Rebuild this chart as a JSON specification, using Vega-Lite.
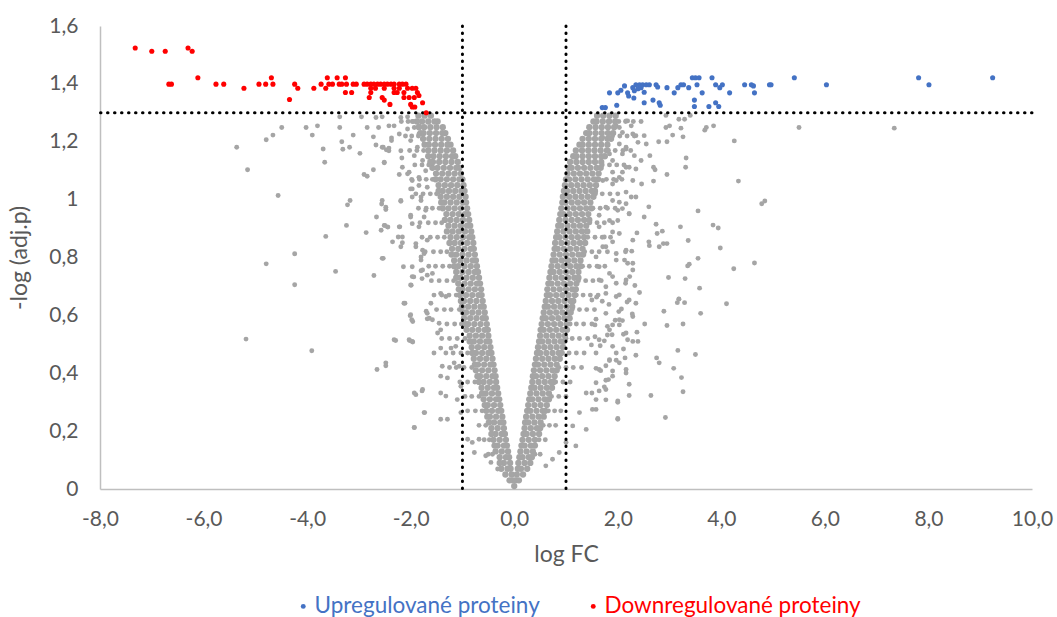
{
"$schema":"https://vega.github.io/schema/vega-lite/v6.json",
"width":932,"height":463,
"autosize":{"type":"none"},
"padding":{"left":100,"top":26,"right":25,"bottom":128},
"background":"white",
"config":{"view":{"stroke":null},"font":"Lato"},
"datasets":{
"vref":[{"x":-1},{"x":1}],
"href":[{"y":1.3}],
"sig":[
{"x":-7.32,"y":1.524,"g":"Downregulované proteiny"},{"x":-7.0,"y":1.513,"g":"Downregulované proteiny"},{"x":-6.74,"y":1.513,"g":"Downregulované proteiny"},{"x":-6.3,"y":1.524,"g":"Downregulované proteiny"},{"x":-6.22,"y":1.513,"g":"Downregulované proteiny"},{"x":-6.67,"y":1.399,"g":"Downregulované proteiny"},{"x":-6.62,"y":1.399,"g":"Downregulované proteiny"},{"x":-6.11,"y":1.421,"g":"Downregulované proteiny"},{"x":-5.76,"y":1.399,"g":"Downregulované proteiny"},{"x":-5.61,"y":1.399,"g":"Downregulované proteiny"},{"x":-5.22,"y":1.385,"g":"Downregulované proteiny"},{"x":-4.93,"y":1.399,"g":"Downregulované proteiny"},{"x":-4.8,"y":1.399,"g":"Downregulované proteiny"},{"x":-4.69,"y":1.421,"g":"Downregulované proteiny"},{"x":-4.66,"y":1.399,"g":"Downregulované proteiny"},{"x":-4.34,"y":1.346,"g":"Downregulované proteiny"},{"x":-4.24,"y":1.399,"g":"Downregulované proteiny"},{"x":-4.18,"y":1.385,"g":"Downregulované proteiny"},{"x":-3.87,"y":1.385,"g":"Downregulované proteiny"},{"x":-3.73,"y":1.399,"g":"Downregulované proteiny"},{"x":-3.64,"y":1.385,"g":"Downregulované proteiny"},{"x":-3.61,"y":1.421,"g":"Downregulované proteiny"},{"x":-3.58,"y":1.399,"g":"Downregulované proteiny"},{"x":-3.51,"y":1.399,"g":"Downregulované proteiny"},{"x":-3.42,"y":1.421,"g":"Downregulované proteiny"},{"x":-3.38,"y":1.399,"g":"Downregulované proteiny"},{"x":-3.33,"y":1.399,"g":"Downregulované proteiny"},{"x":-3.26,"y":1.421,"g":"Downregulované proteiny"},{"x":-3.24,"y":1.399,"g":"Downregulované proteiny"},{"x":-3.26,"y":1.37,"g":"Downregulované proteiny"},{"x":-3.14,"y":1.37,"g":"Downregulované proteiny"},{"x":-3.11,"y":1.399,"g":"Downregulované proteiny"},{"x":-3.05,"y":1.399,"g":"Downregulované proteiny"},
{"x":-2.9,"y":1.399,"g":"Downregulované proteiny"},{"x":-2.84,"y":1.399,"g":"Downregulované proteiny"},{"x":-2.77,"y":1.399,"g":"Downregulované proteiny"},{"x":-2.71,"y":1.399,"g":"Downregulované proteiny"},{"x":-2.64,"y":1.399,"g":"Downregulované proteiny"},{"x":-2.58,"y":1.399,"g":"Downregulované proteiny"},{"x":-2.51,"y":1.399,"g":"Downregulované proteiny"},{"x":-2.45,"y":1.399,"g":"Downregulované proteiny"},{"x":-2.38,"y":1.399,"g":"Downregulované proteiny"},{"x":-2.32,"y":1.399,"g":"Downregulované proteiny"},
{"x":-2.77,"y":1.385,"g":"Downregulované proteiny"},{"x":-2.68,"y":1.385,"g":"Downregulované proteiny"},{"x":-2.51,"y":1.385,"g":"Downregulované proteiny"},{"x":-2.32,"y":1.385,"g":"Downregulované proteiny"},{"x":-2.22,"y":1.385,"g":"Downregulované proteiny"},
{"x":-2.77,"y":1.37,"g":"Downregulované proteiny"},{"x":-2.32,"y":1.37,"g":"Downregulované proteiny"},{"x":-2.26,"y":1.37,"g":"Downregulované proteiny"},{"x":-2.13,"y":1.37,"g":"Downregulované proteiny"},
{"x":-2.8,"y":1.353,"g":"Downregulované proteiny"},{"x":-2.55,"y":1.353,"g":"Downregulované proteiny"},{"x":-2.13,"y":1.353,"g":"Downregulované proteiny"},{"x":-2.03,"y":1.353,"g":"Downregulované proteiny"},{"x":-1.93,"y":1.353,"g":"Downregulované proteiny"},
{"x":-2.51,"y":1.344,"g":"Downregulované proteiny"},{"x":-2.4,"y":1.329,"g":"Downregulované proteiny"},{"x":-2.0,"y":1.329,"g":"Downregulované proteiny"},{"x":-1.97,"y":1.32,"g":"Downregulované proteiny"},{"x":-1.92,"y":1.32,"g":"Downregulované proteiny"},{"x":-1.77,"y":1.335,"g":"Downregulované proteiny"},{"x":-1.7,"y":1.3,"g":"Downregulované proteiny"},
{"x":-2.22,"y":1.399,"g":"Downregulované proteiny"},{"x":-2.16,"y":1.399,"g":"Downregulované proteiny"},{"x":-2.09,"y":1.399,"g":"Downregulované proteiny"},{"x":-2.06,"y":1.385,"g":"Downregulované proteiny"},{"x":-1.97,"y":1.385,"g":"Downregulované proteiny"},{"x":-1.9,"y":1.385,"g":"Downregulované proteiny"},{"x":-1.87,"y":1.37,"g":"Downregulované proteiny"},{"x":-1.84,"y":1.36,"g":"Downregulované proteiny"},
{"x":1.7,"y":1.318,"g":"Upregulované proteiny"},{"x":1.76,"y":1.318,"g":"Upregulované proteiny"},{"x":1.84,"y":1.369,"g":"Upregulované proteiny"},{"x":1.98,"y":1.326,"g":"Upregulované proteiny"},{"x":2.0,"y":1.369,"g":"Upregulované proteiny"},{"x":2.06,"y":1.378,"g":"Upregulované proteiny"},{"x":2.13,"y":1.393,"g":"Upregulované proteiny"},{"x":2.19,"y":1.369,"g":"Upregulované proteiny"},{"x":2.21,"y":1.358,"g":"Upregulované proteiny"},{"x":2.29,"y":1.387,"g":"Upregulované proteiny"},{"x":2.32,"y":1.376,"g":"Upregulované proteiny"},{"x":2.31,"y":1.351,"g":"Upregulované proteiny"},{"x":2.35,"y":1.397,"g":"Upregulované proteiny"},{"x":2.42,"y":1.397,"g":"Upregulované proteiny"},{"x":2.48,"y":1.397,"g":"Upregulované proteiny"},{"x":2.55,"y":1.397,"g":"Upregulované proteiny"},{"x":2.61,"y":1.397,"g":"Upregulované proteiny"},{"x":2.39,"y":1.383,"g":"Upregulované proteiny"},{"x":2.45,"y":1.387,"g":"Upregulované proteiny"},{"x":2.51,"y":1.371,"g":"Upregulované proteiny"},{"x":2.51,"y":1.335,"g":"Upregulované proteiny"},{"x":2.68,"y":1.344,"g":"Upregulované proteiny"},{"x":2.74,"y":1.397,"g":"Upregulované proteiny"},{"x":2.77,"y":1.389,"g":"Upregulované proteiny"},{"x":2.8,"y":1.335,"g":"Upregulované proteiny"},{"x":2.82,"y":1.326,"g":"Upregulované proteiny"},{"x":2.95,"y":1.387,"g":"Upregulované proteiny"},{"x":3.09,"y":1.369,"g":"Upregulované proteiny"},{"x":3.16,"y":1.387,"g":"Upregulované proteiny"},{"x":3.22,"y":1.397,"g":"Upregulované proteiny"},{"x":3.27,"y":1.397,"g":"Upregulované proteiny"},{"x":3.37,"y":1.387,"g":"Upregulované proteiny"},{"x":3.44,"y":1.421,"g":"Upregulované proteiny"},{"x":3.5,"y":1.421,"g":"Upregulované proteiny"},{"x":3.57,"y":1.421,"g":"Upregulované proteiny"},{"x":3.53,"y":1.397,"g":"Upregulované proteiny"},{"x":3.48,"y":1.344,"g":"Upregulované proteiny"},{"x":3.48,"y":1.322,"g":"Upregulované proteiny"},{"x":3.63,"y":1.369,"g":"Upregulované proteiny"},{"x":3.76,"y":1.322,"g":"Upregulované proteiny"},{"x":3.82,"y":1.421,"g":"Upregulované proteiny"},{"x":3.89,"y":1.397,"g":"Upregulované proteiny"},{"x":3.89,"y":1.335,"g":"Upregulované proteiny"},{"x":3.95,"y":1.322,"g":"Upregulované proteiny"},{"x":3.97,"y":1.387,"g":"Upregulované proteiny"},{"x":4.02,"y":1.397,"g":"Upregulované proteiny"},{"x":4.16,"y":1.369,"g":"Upregulované proteiny"},{"x":4.45,"y":1.397,"g":"Upregulované proteiny"},{"x":4.58,"y":1.397,"g":"Upregulované proteiny"},{"x":4.62,"y":1.393,"g":"Upregulované proteiny"},{"x":4.64,"y":1.369,"g":"Upregulované proteiny"},{"x":4.93,"y":1.397,"g":"Upregulované proteiny"},{"x":4.96,"y":1.397,"g":"Upregulované proteiny"},{"x":5.41,"y":1.421,"g":"Upregulované proteiny"},{"x":6.03,"y":1.397,"g":"Upregulované proteiny"},{"x":7.81,"y":1.421,"g":"Upregulované proteiny"},{"x":8.01,"y":1.397,"g":"Upregulované proteiny"},{"x":9.24,"y":1.421,"g":"Upregulované proteiny"}
],
"core":[
{"x":0,"y":0.01},
{"x":-0.03,"y":0.03},{"x":-0.09,"y":0.03},{"x":0.03,"y":0.03},{"x":0.09,"y":0.03},
{"x":-0.05,"y":0.05},{"x":-0.17,"y":0.05},{"x":0.05,"y":0.05},{"x":0.17,"y":0.05},
{"x":-0.07,"y":0.07},{"x":-0.13,"y":0.07},{"x":-0.25,"y":0.07},{"x":0.07,"y":0.07},{"x":0.13,"y":0.07},{"x":0.25,"y":0.07},
{"x":-0.08,"y":0.09},{"x":-0.2,"y":0.09},{"x":-0.28,"y":0.09},{"x":0.08,"y":0.09},{"x":0.2,"y":0.09},{"x":0.31,"y":0.09},
{"x":-0.1,"y":0.11},{"x":-0.16,"y":0.11},{"x":-0.28,"y":0.11},{"x":0.1,"y":0.11},{"x":0.16,"y":0.11},{"x":0.28,"y":0.11},{"x":0.34,"y":0.11},
{"x":-0.12,"y":0.13},{"x":-0.24,"y":0.13},{"x":-0.36,"y":0.13},{"x":0.12,"y":0.13},{"x":0.24,"y":0.13},{"x":0.36,"y":0.13},
{"x":-0.14,"y":0.15},{"x":-0.2,"y":0.15},{"x":-0.32,"y":0.15},{"x":-0.38,"y":0.15},{"x":0.14,"y":0.15},{"x":0.2,"y":0.15},{"x":0.32,"y":0.15},{"x":0.4,"y":0.15},
{"x":-0.16,"y":0.17},{"x":-0.28,"y":0.17},{"x":-0.4,"y":0.17},{"x":0.16,"y":0.17},{"x":0.28,"y":0.17},{"x":0.4,"y":0.17},
{"x":-0.18,"y":0.19},{"x":-0.24,"y":0.19},{"x":-0.36,"y":0.19},{"x":-0.44,"y":0.19},{"x":0.18,"y":0.19},{"x":0.24,"y":0.19},{"x":0.36,"y":0.19},{"x":0.48,"y":0.19},
{"x":-0.2,"y":0.21},{"x":-0.32,"y":0.21},{"x":-0.44,"y":0.21},{"x":0.2,"y":0.21},{"x":0.32,"y":0.21},{"x":0.44,"y":0.21},{"x":0.5,"y":0.21},
{"x":-0.21,"y":0.23},{"x":-0.27,"y":0.23},{"x":-0.39,"y":0.23},{"x":-0.49,"y":0.23},{"x":0.21,"y":0.23},{"x":0.27,"y":0.23},{"x":0.39,"y":0.23},{"x":0.51,"y":0.23},
{"x":-0.23,"y":0.25},{"x":-0.35,"y":0.25},{"x":-0.47,"y":0.25},{"x":-0.52,"y":0.25},{"x":0.23,"y":0.25},{"x":0.35,"y":0.25},{"x":0.47,"y":0.25},{"x":0.57,"y":0.25},
{"x":-0.25,"y":0.27},{"x":-0.31,"y":0.27},{"x":-0.43,"y":0.27},{"x":-0.54,"y":0.27},{"x":0.25,"y":0.27},{"x":0.31,"y":0.27},{"x":0.43,"y":0.27},{"x":0.55,"y":0.27},{"x":0.6,"y":0.27},
{"x":-0.27,"y":0.29},{"x":-0.39,"y":0.29},{"x":-0.51,"y":0.29},{"x":-0.57,"y":0.29},{"x":0.27,"y":0.29},{"x":0.39,"y":0.29},{"x":0.51,"y":0.29},{"x":0.63,"y":0.29},
{"x":-0.29,"y":0.31},{"x":-0.35,"y":0.31},{"x":-0.47,"y":0.31},{"x":-0.59,"y":0.31},{"x":0.29,"y":0.31},{"x":0.35,"y":0.31},{"x":0.47,"y":0.31},{"x":0.59,"y":0.31},{"x":0.67,"y":0.31},
{"x":-0.31,"y":0.33},{"x":-0.43,"y":0.33},{"x":-0.55,"y":0.33},{"x":-0.62,"y":0.33},{"x":0.31,"y":0.33},{"x":0.43,"y":0.33},{"x":0.55,"y":0.33},{"x":0.67,"y":0.33},
{"x":-0.33,"y":0.35},{"x":-0.39,"y":0.35},{"x":-0.51,"y":0.35},{"x":-0.63,"y":0.35},{"x":0.33,"y":0.35},{"x":0.39,"y":0.35},{"x":0.51,"y":0.35},{"x":0.63,"y":0.35},{"x":0.73,"y":0.35},
{"x":-0.35,"y":0.37},{"x":-0.47,"y":0.37},{"x":-0.59,"y":0.37},{"x":-0.68,"y":0.37},{"x":0.35,"y":0.37},{"x":0.47,"y":0.37},{"x":0.59,"y":0.37},{"x":0.71,"y":0.37},{"x":0.76,"y":0.37},
{"x":-0.36,"y":0.39},{"x":-0.42,"y":0.39},{"x":-0.54,"y":0.39},{"x":-0.66,"y":0.39},{"x":-0.71,"y":0.39},{"x":0.36,"y":0.39},{"x":0.42,"y":0.39},{"x":0.54,"y":0.39},{"x":0.66,"y":0.39},{"x":0.78,"y":0.39},
{"x":-0.38,"y":0.41},{"x":-0.5,"y":0.41},{"x":-0.62,"y":0.41},{"x":-0.74,"y":0.41},{"x":0.38,"y":0.41},{"x":0.5,"y":0.41},{"x":0.62,"y":0.41},{"x":0.74,"y":0.41},{"x":0.82,"y":0.41},
{"x":-0.4,"y":0.43},{"x":-0.46,"y":0.43},{"x":-0.58,"y":0.43},{"x":-0.7,"y":0.43},{"x":-0.76,"y":0.43},{"x":0.4,"y":0.43},{"x":0.46,"y":0.43},{"x":0.58,"y":0.43},{"x":0.7,"y":0.43},{"x":0.82,"y":0.43},
{"x":-0.42,"y":0.45},{"x":-0.54,"y":0.45},{"x":-0.66,"y":0.45},{"x":-0.78,"y":0.45},{"x":0.42,"y":0.45},{"x":0.54,"y":0.45},{"x":0.66,"y":0.45},{"x":0.78,"y":0.45},{"x":0.88,"y":0.45},
{"x":-0.44,"y":0.47},{"x":-0.5,"y":0.47},{"x":-0.62,"y":0.47},{"x":-0.74,"y":0.47},{"x":-0.81,"y":0.47},{"x":0.44,"y":0.47},{"x":0.5,"y":0.47},{"x":0.62,"y":0.47},{"x":0.74,"y":0.47},{"x":0.86,"y":0.47},{"x":0.91,"y":0.47},
{"x":-0.46,"y":0.49},{"x":-0.58,"y":0.49},{"x":-0.7,"y":0.49},{"x":-0.82,"y":0.49},{"x":0.46,"y":0.49},{"x":0.58,"y":0.49},{"x":0.7,"y":0.49},{"x":0.82,"y":0.49},{"x":0.94,"y":0.49},
{"x":-0.48,"y":0.51},{"x":-0.54,"y":0.51},{"x":-0.66,"y":0.51},{"x":-0.78,"y":0.51},{"x":-0.86,"y":0.51},{"x":0.48,"y":0.51},{"x":0.54,"y":0.51},{"x":0.66,"y":0.51},{"x":0.78,"y":0.51},{"x":0.9,"y":0.51},{"x":0.96,"y":0.51},
{"x":-0.5,"y":0.53},{"x":-0.62,"y":0.53},{"x":-0.74,"y":0.53},{"x":-0.86,"y":0.53},{"x":0.5,"y":0.53},{"x":0.62,"y":0.53},{"x":0.74,"y":0.53},{"x":0.86,"y":0.53},{"x":0.98,"y":0.53},
{"x":-0.51,"y":0.55},{"x":-0.57,"y":0.55},{"x":-0.69,"y":0.55},{"x":-0.81,"y":0.55},{"x":-0.92,"y":0.55},{"x":0.51,"y":0.55},{"x":0.57,"y":0.55},{"x":0.69,"y":0.55},{"x":0.81,"y":0.55},{"x":0.93,"y":0.55},{"x":1.02,"y":0.55},
{"x":-0.53,"y":0.57},{"x":-0.65,"y":0.57},{"x":-0.77,"y":0.57},{"x":-0.89,"y":0.57},{"x":-0.94,"y":0.57},{"x":0.53,"y":0.57},{"x":0.65,"y":0.57},{"x":0.77,"y":0.57},{"x":0.89,"y":0.57},{"x":1.01,"y":0.57},
{"x":-0.55,"y":0.59},{"x":-0.61,"y":0.59},{"x":-0.73,"y":0.59},{"x":-0.85,"y":0.59},{"x":-0.97,"y":0.59},{"x":0.55,"y":0.59},{"x":0.61,"y":0.59},{"x":0.73,"y":0.59},{"x":0.85,"y":0.59},{"x":0.97,"y":0.59},{"x":1.07,"y":0.59},
{"x":-0.57,"y":0.61},{"x":-0.69,"y":0.61},{"x":-0.81,"y":0.61},{"x":-0.93,"y":0.61},{"x":-0.99,"y":0.61},{"x":0.57,"y":0.61},{"x":0.69,"y":0.61},{"x":0.81,"y":0.61},{"x":0.93,"y":0.61},{"x":1.05,"y":0.61},{"x":1.09,"y":0.61},
{"x":-0.59,"y":0.63},{"x":-0.65,"y":0.63},{"x":-0.77,"y":0.63},{"x":-0.89,"y":0.63},{"x":-1.01,"y":0.63},{"x":0.59,"y":0.63},{"x":0.65,"y":0.63},{"x":0.77,"y":0.63},{"x":0.89,"y":0.63},{"x":1.01,"y":0.63},{"x":1.12,"y":0.63},
{"x":-0.61,"y":0.65},{"x":-0.73,"y":0.65},{"x":-0.85,"y":0.65},{"x":-0.97,"y":0.65},{"x":-1.03,"y":0.65},{"x":0.61,"y":0.65},{"x":0.73,"y":0.65},{"x":0.85,"y":0.65},{"x":0.97,"y":0.65},{"x":1.09,"y":0.65},{"x":1.14,"y":0.65},
{"x":-0.63,"y":0.67},{"x":-0.69,"y":0.67},{"x":-0.81,"y":0.67},{"x":-0.93,"y":0.67},{"x":-1.05,"y":0.67},{"x":0.63,"y":0.67},{"x":0.69,"y":0.67},{"x":0.81,"y":0.67},{"x":0.93,"y":0.67},{"x":1.05,"y":0.67},{"x":1.17,"y":0.67},
{"x":-0.64,"y":0.69},{"x":-0.76,"y":0.69},{"x":-0.88,"y":0.69},{"x":-1.0,"y":0.69},{"x":-1.07,"y":0.69},{"x":0.64,"y":0.69},{"x":0.76,"y":0.69},{"x":0.88,"y":0.69},{"x":1.0,"y":0.69},{"x":1.12,"y":0.69},{"x":1.19,"y":0.69},
{"x":-0.66,"y":0.71},{"x":-0.72,"y":0.71},{"x":-0.84,"y":0.71},{"x":-0.96,"y":0.71},{"x":-1.08,"y":0.71},{"x":0.66,"y":0.71},{"x":0.72,"y":0.71},{"x":0.84,"y":0.71},{"x":0.96,"y":0.71},{"x":1.08,"y":0.71},{"x":1.2,"y":0.71},
{"x":-0.68,"y":0.73},{"x":-0.8,"y":0.73},{"x":-0.92,"y":0.73},{"x":-1.04,"y":0.73},{"x":-1.12,"y":0.73},{"x":0.68,"y":0.73},{"x":0.8,"y":0.73},{"x":0.92,"y":0.73},{"x":1.04,"y":0.73},{"x":1.16,"y":0.73},{"x":1.24,"y":0.73},
{"x":-0.7,"y":0.75},{"x":-0.76,"y":0.75},{"x":-0.88,"y":0.75},{"x":-1.0,"y":0.75},{"x":-1.12,"y":0.75},{"x":0.7,"y":0.75},{"x":0.76,"y":0.75},{"x":0.88,"y":0.75},{"x":1.0,"y":0.75},{"x":1.12,"y":0.75},{"x":1.24,"y":0.75},
{"x":-0.72,"y":0.77},{"x":-0.84,"y":0.77},{"x":-0.96,"y":0.77},{"x":-1.08,"y":0.77},{"x":-1.16,"y":0.77},{"x":0.72,"y":0.77},{"x":0.84,"y":0.77},{"x":0.96,"y":0.77},{"x":1.08,"y":0.77},{"x":1.2,"y":0.77},{"x":1.28,"y":0.77},
{"x":-0.74,"y":0.79},{"x":-0.8,"y":0.79},{"x":-0.92,"y":0.79},{"x":-1.04,"y":0.79},{"x":-1.16,"y":0.79},{"x":0.74,"y":0.79},{"x":0.8,"y":0.79},{"x":0.92,"y":0.79},{"x":1.04,"y":0.79},{"x":1.16,"y":0.79},{"x":1.28,"y":0.79},
{"x":-0.76,"y":0.81},{"x":-0.88,"y":0.81},{"x":-1.0,"y":0.81},{"x":-1.12,"y":0.81},{"x":-1.21,"y":0.81},{"x":0.76,"y":0.81},{"x":0.88,"y":0.81},{"x":1.0,"y":0.81},{"x":1.12,"y":0.81},{"x":1.24,"y":0.81},{"x":1.33,"y":0.81},
{"x":-0.78,"y":0.83},{"x":-0.84,"y":0.83},{"x":-0.96,"y":0.83},{"x":-1.08,"y":0.83},{"x":-1.2,"y":0.83},{"x":0.78,"y":0.83},{"x":0.84,"y":0.83},{"x":0.96,"y":0.83},{"x":1.08,"y":0.83},{"x":1.2,"y":0.83},{"x":1.32,"y":0.83},
{"x":-0.79,"y":0.85},{"x":-0.91,"y":0.85},{"x":-1.03,"y":0.85},{"x":-1.15,"y":0.85},{"x":-1.25,"y":0.85},{"x":0.79,"y":0.85},{"x":0.91,"y":0.85},{"x":1.03,"y":0.85},{"x":1.15,"y":0.85},{"x":1.27,"y":0.85},{"x":1.37,"y":0.85},
{"x":-0.81,"y":0.87},{"x":-0.87,"y":0.87},{"x":-0.99,"y":0.87},{"x":-1.11,"y":0.87},{"x":-1.23,"y":0.87},{"x":0.81,"y":0.87},{"x":0.87,"y":0.87},{"x":0.99,"y":0.87},{"x":1.11,"y":0.87},{"x":1.23,"y":0.87},{"x":1.35,"y":0.87},
{"x":-0.83,"y":0.89},{"x":-0.95,"y":0.89},{"x":-1.07,"y":0.89},{"x":-1.19,"y":0.89},{"x":-1.3,"y":0.89},{"x":0.83,"y":0.89},{"x":0.95,"y":0.89},{"x":1.07,"y":0.89},{"x":1.19,"y":0.89},{"x":1.31,"y":0.89},{"x":1.41,"y":0.89},
{"x":-0.85,"y":0.91},{"x":-0.91,"y":0.91},{"x":-1.03,"y":0.91},{"x":-1.15,"y":0.91},{"x":-1.27,"y":0.91},{"x":0.85,"y":0.91},{"x":0.91,"y":0.91},{"x":1.03,"y":0.91},{"x":1.15,"y":0.91},{"x":1.27,"y":0.91},{"x":1.39,"y":0.91},
{"x":-0.87,"y":0.93},{"x":-0.99,"y":0.93},{"x":-1.11,"y":0.93},{"x":-1.23,"y":0.93},{"x":-1.34,"y":0.93},{"x":0.87,"y":0.93},{"x":0.99,"y":0.93},{"x":1.11,"y":0.93},{"x":1.23,"y":0.93},{"x":1.35,"y":0.93},{"x":1.45,"y":0.93},
{"x":-0.89,"y":0.95},{"x":-0.95,"y":0.95},{"x":-1.07,"y":0.95},{"x":-1.19,"y":0.95},{"x":-1.31,"y":0.95},{"x":0.89,"y":0.95},{"x":0.95,"y":0.95},{"x":1.07,"y":0.95},{"x":1.19,"y":0.95},{"x":1.31,"y":0.95},{"x":1.43,"y":0.95},
{"x":-0.91,"y":0.97},{"x":-1.03,"y":0.97},{"x":-1.15,"y":0.97},{"x":-1.27,"y":0.97},{"x":-1.38,"y":0.97},{"x":0.91,"y":0.97},{"x":1.03,"y":0.97},{"x":1.15,"y":0.97},{"x":1.27,"y":0.97},{"x":1.39,"y":0.97},{"x":1.49,"y":0.97},
{"x":-0.93,"y":0.99},{"x":-0.99,"y":0.99},{"x":-1.11,"y":0.99},{"x":-1.23,"y":0.99},{"x":-1.35,"y":0.99},{"x":-1.41,"y":0.99},{"x":0.93,"y":0.99},{"x":0.99,"y":0.99},{"x":1.11,"y":0.99},{"x":1.23,"y":0.99},{"x":1.35,"y":0.99},{"x":1.47,"y":0.99},
{"x":-0.94,"y":1.01},{"x":-1.06,"y":1.01},{"x":-1.18,"y":1.01},{"x":-1.3,"y":1.01},{"x":-1.42,"y":1.01},{"x":0.94,"y":1.01},{"x":1.06,"y":1.01},{"x":1.18,"y":1.01},{"x":1.3,"y":1.01},{"x":1.42,"y":1.01},{"x":1.53,"y":1.01},
{"x":-0.96,"y":1.03},{"x":-1.02,"y":1.03},{"x":-1.14,"y":1.03},{"x":-1.26,"y":1.03},{"x":-1.38,"y":1.03},{"x":-1.46,"y":1.03},{"x":0.96,"y":1.03},{"x":1.02,"y":1.03},{"x":1.14,"y":1.03},{"x":1.26,"y":1.03},{"x":1.38,"y":1.03},{"x":1.5,"y":1.03},{"x":1.56,"y":1.03},
{"x":-0.98,"y":1.05},{"x":-1.1,"y":1.05},{"x":-1.22,"y":1.05},{"x":-1.34,"y":1.05},{"x":-1.46,"y":1.05},{"x":0.98,"y":1.05},{"x":1.1,"y":1.05},{"x":1.22,"y":1.05},{"x":1.34,"y":1.05},{"x":1.46,"y":1.05},{"x":1.58,"y":1.05},
{"x":-1.0,"y":1.07},{"x":-1.06,"y":1.07},{"x":-1.18,"y":1.07},{"x":-1.3,"y":1.07},{"x":-1.42,"y":1.07},{"x":-1.52,"y":1.07},{"x":1.0,"y":1.07},{"x":1.06,"y":1.07},{"x":1.18,"y":1.07},{"x":1.3,"y":1.07},{"x":1.42,"y":1.07},{"x":1.54,"y":1.07},{"x":1.61,"y":1.07},
{"x":-1.03,"y":1.09},{"x":-1.15,"y":1.09},{"x":-1.27,"y":1.09},{"x":-1.39,"y":1.09},{"x":-1.51,"y":1.09},{"x":1.03,"y":1.09},{"x":1.15,"y":1.09},{"x":1.27,"y":1.09},{"x":1.39,"y":1.09},{"x":1.51,"y":1.09},{"x":1.63,"y":1.09},
{"x":-1.06,"y":1.11},{"x":-1.12,"y":1.11},{"x":-1.24,"y":1.11},{"x":-1.36,"y":1.11},{"x":-1.48,"y":1.11},{"x":-1.58,"y":1.11},{"x":1.05,"y":1.11},{"x":1.11,"y":1.11},{"x":1.23,"y":1.11},{"x":1.35,"y":1.11},{"x":1.47,"y":1.11},{"x":1.59,"y":1.11},{"x":1.67,"y":1.11},
{"x":-1.09,"y":1.13},{"x":-1.21,"y":1.13},{"x":-1.33,"y":1.13},{"x":-1.45,"y":1.13},{"x":-1.57,"y":1.13},{"x":-1.62,"y":1.13},{"x":1.08,"y":1.13},{"x":1.2,"y":1.13},{"x":1.32,"y":1.13},{"x":1.44,"y":1.13},{"x":1.56,"y":1.13},{"x":1.68,"y":1.13},
{"x":-1.14,"y":1.15},{"x":-1.2,"y":1.15},{"x":-1.32,"y":1.15},{"x":-1.44,"y":1.15},{"x":-1.56,"y":1.15},{"x":-1.66,"y":1.15},{"x":1.14,"y":1.15},{"x":1.2,"y":1.15},{"x":1.32,"y":1.15},{"x":1.44,"y":1.15},{"x":1.56,"y":1.15},{"x":1.68,"y":1.15},{"x":1.75,"y":1.15},
{"x":-1.18,"y":1.17},{"x":-1.3,"y":1.17},{"x":-1.42,"y":1.17},{"x":-1.54,"y":1.17},{"x":-1.66,"y":1.17},{"x":1.19,"y":1.17},{"x":1.31,"y":1.17},{"x":1.43,"y":1.17},{"x":1.55,"y":1.17},{"x":1.67,"y":1.17},{"x":1.79,"y":1.17},
{"x":-1.23,"y":1.19},{"x":-1.29,"y":1.19},{"x":-1.41,"y":1.19},{"x":-1.53,"y":1.19},{"x":-1.65,"y":1.19},{"x":-1.73,"y":1.19},{"x":1.26,"y":1.19},{"x":1.32,"y":1.19},{"x":1.44,"y":1.19},{"x":1.56,"y":1.19},{"x":1.68,"y":1.19},{"x":1.8,"y":1.19},
{"x":-1.28,"y":1.21},{"x":-1.4,"y":1.21},{"x":-1.52,"y":1.21},{"x":-1.64,"y":1.21},{"x":-1.76,"y":1.21},{"x":1.32,"y":1.21},{"x":1.44,"y":1.21},{"x":1.56,"y":1.21},{"x":1.68,"y":1.21},{"x":1.8,"y":1.21},{"x":1.87,"y":1.21},
{"x":-1.33,"y":1.23},{"x":-1.39,"y":1.23},{"x":-1.51,"y":1.23},{"x":-1.63,"y":1.23},{"x":-1.75,"y":1.23},{"x":-1.81,"y":1.23},{"x":1.39,"y":1.23},{"x":1.45,"y":1.23},{"x":1.57,"y":1.23},{"x":1.69,"y":1.23},{"x":1.81,"y":1.23},{"x":1.91,"y":1.23},
{"x":-1.38,"y":1.25},{"x":-1.5,"y":1.25},{"x":-1.62,"y":1.25},{"x":-1.74,"y":1.25},{"x":-1.84,"y":1.25},{"x":1.45,"y":1.25},{"x":1.57,"y":1.25},{"x":1.69,"y":1.25},{"x":1.81,"y":1.25},{"x":1.93,"y":1.25},
{"x":-1.48,"y":1.27},{"x":-1.54,"y":1.27},{"x":-1.66,"y":1.27},{"x":-1.78,"y":1.27},{"x":-1.88,"y":1.27},{"x":1.53,"y":1.27},{"x":1.59,"y":1.27},{"x":1.71,"y":1.27},{"x":1.83,"y":1.27},{"x":1.95,"y":1.27},
{"x":-1.61,"y":1.29},{"x":-1.73,"y":1.29},{"x":-1.85,"y":1.29},{"x":1.6,"y":1.29},{"x":1.72,"y":1.29},{"x":1.84,"y":1.29},{"x":1.96,"y":1.29}
],
"scat":[
{"x":-5.36,"y":1.181},{"x":-5.15,"y":1.103},{"x":-4.79,"y":1.207},{"x":-4.66,"y":1.223},{"x":-4.49,"y":1.249},{"x":-4.56,"y":1.014},{"x":-4.24,"y":0.813},{"x":-4.79,"y":0.778},{"x":-4.24,"y":0.706},{"x":-4.02,"y":1.249},{"x":-3.9,"y":1.223},{"x":-3.8,"y":1.255},{"x":-3.69,"y":1.175},{"x":-3.66,"y":1.129},{"x":-3.64,"y":0.873},{"x":-3.45,"y":0.752},{"x":-3.37,"y":1.286},{"x":-3.37,"y":1.249},{"x":-3.33,"y":1.2},{"x":-3.31,"y":1.174},{"x":-3.18,"y":1.181},{"x":-3.11,"y":1.223},{"x":-2.98,"y":1.16},{"x":-3.24,"y":0.911},{"x":-3.22,"y":0.982},{"x":-3.17,"y":0.997},{"x":-2.9,"y":1.087},{"x":-2.84,"y":1.081},{"x":-2.72,"y":1.103},{"x":-2.95,"y":1.286},{"x":-2.84,"y":1.249},{"x":-2.72,"y":1.217},{"x":-2.67,"y":1.189},{"x":-2.53,"y":1.181},{"x":-2.62,"y":1.249},{"x":-2.67,"y":1.284},{"x":-2.51,"y":1.127},{"x":-2.56,"y":0.985},{"x":-2.48,"y":0.966},{"x":-2.66,"y":0.94},{"x":-2.86,"y":0.886},{"x":-2.57,"y":0.894},{"x":-2.5,"y":0.911},{"x":-2.44,"y":0.905},{"x":-2.53,"y":0.797},{"x":-2.71,"y":0.738},{"x":-2.37,"y":1.213},{"x":-2.42,"y":1.178},{"x":-2.47,"y":1.172},{"x":-2.22,"y":1.227},{"x":-2.19,"y":1.169},{"x":-2.17,"y":1.144},{"x":-2.22,"y":1.087},{"x":-2.19,"y":0.994},{"x":-2.21,"y":0.906},{"x":-2.24,"y":0.871},{"x":-2.16,"y":0.851},{"x":-2.14,"y":0.768},{"x":-1.99,"y":0.704},{"x":-1.94,"y":0.733},{"x":-1.8,"y":0.754},{"x":-1.78,"y":0.727},
{"x":-2.55,"y":1.286},{"x":-2.42,"y":1.255},{"x":-2.32,"y":1.255},{"x":-2.19,"y":1.284},{"x":-2.06,"y":1.286},{"x":-1.97,"y":1.27},{"x":-1.84,"y":1.255},
{"x":-2.06,"y":1.244},{"x":-1.93,"y":1.249},{"x":-1.84,"y":1.227},{"x":-2.0,"y":1.204},{"x":-1.87,"y":1.181},{"x":-1.74,"y":1.192},{"x":-1.93,"y":1.152},{"x":-1.77,"y":1.135},{"x":-2.03,"y":1.095},{"x":-1.84,"y":1.077},{"x":-1.71,"y":1.1},{"x":-1.97,"y":1.037},{"x":-1.8,"y":1.009},{"x":-1.68,"y":1.043},{"x":-2.0,"y":0.94},{"x":-1.84,"y":0.906},{"x":-1.71,"y":0.963},{"x":-1.9,"y":0.837},{"x":-1.74,"y":0.814},{"x":-1.8,"y":0.791},{"x":-1.68,"y":0.86},
{"x":-5.18,"y":0.518},{"x":-3.91,"y":0.478},{"x":-2.11,"y":0.642},{"x":-2.01,"y":0.599},{"x":-1.96,"y":0.579},{"x":-2.29,"y":0.513},{"x":-2.02,"y":0.513},{"x":-1.96,"y":0.508},{"x":-2.65,"y":0.413},{"x":-2.48,"y":0.436},{"x":-2.48,"y":0.426},{"x":-1.9,"y":0.326},{"x":-1.78,"y":0.339},{"x":-1.73,"y":0.264},{"x":-1.93,"y":0.213},{"x":-1.7,"y":0.614},{"x":-1.68,"y":0.588},
{"x":-2.37,"y":1.204},{"x":-2.55,"y":1.181},{"x":-2.42,"y":1.169},{"x":-2.51,"y":1.129},{"x":-2.16,"y":1.112},{"x":-2.06,"y":1.089},{"x":-2.0,"y":1.037},{"x":-1.97,"y":1.066},{"x":-1.84,"y":1.049},{"x":-2.55,"y":0.997},{"x":-2.48,"y":0.974},{"x":-2.19,"y":0.997},{"x":-1.97,"y":1.009},{"x":-1.8,"y":0.997},{"x":-2.51,"y":0.911},{"x":-2.45,"y":0.906},{"x":-2.22,"y":0.906},{"x":-2.0,"y":0.946},{"x":-1.97,"y":0.917},{"x":-1.74,"y":0.94},{"x":-2.55,"y":0.797},{"x":-2.35,"y":0.854},{"x":-2.16,"y":0.871},{"x":-2.19,"y":0.837},{"x":-1.9,"y":0.848},{"x":-1.77,"y":0.825},{"x":-1.8,"y":0.802},{"x":-1.97,"y":0.768},{"x":-1.77,"y":0.757},{"x":-1.68,"y":0.739},{"x":-1.58,"y":0.745},{"x":-1.97,"y":0.734},{"x":-2.0,"y":0.705},{"x":-2.13,"y":0.642},{"x":-2.0,"y":0.602},{"x":-1.98,"y":0.585},{"x":-1.68,"y":0.607},{"x":-1.64,"y":0.59},{"x":-1.58,"y":0.585},{"x":-1.45,"y":0.573},{"x":-1.48,"y":0.539},{"x":-1.42,"y":0.55},{"x":-1.61,"y":0.642},{"x":-1.42,"y":0.676},{"x":-1.32,"y":0.665},{"x":-2.32,"y":0.516},{"x":-2.03,"y":0.516},{"x":-1.97,"y":0.51},{"x":-1.55,"y":0.47},{"x":-1.42,"y":0.487},{"x":-1.32,"y":0.47},{"x":-1.22,"y":0.487},{"x":-1.13,"y":0.493},{"x":-1.06,"y":0.424},{"x":-1.16,"y":0.436},{"x":-1.39,"y":0.424},{"x":-1.42,"y":0.39},{"x":-1.29,"y":0.384},{"x":-1.03,"y":0.355},{"x":-1.1,"y":0.309},{"x":-1.93,"y":0.332},{"x":-1.77,"y":0.344},{"x":-1.42,"y":0.332},{"x":-1.32,"y":0.321},{"x":-1.42,"y":0.241},{"x":-1.29,"y":0.241},{"x":-1.74,"y":0.264},{"x":-1.93,"y":0.212},{"x":-1.03,"y":0.264},{"x":-0.9,"y":0.172},{"x":-0.81,"y":0.161},{"x":-0.68,"y":0.172},{"x":-0.77,"y":0.126},{"x":-0.55,"y":0.115},{"x":-0.45,"y":0.092},{"x":-0.32,"y":0.069},
{"x":5.5,"y":1.249},{"x":7.34,"y":1.247},{"x":4.25,"y":1.203},{"x":4.33,"y":1.064},{"x":4.78,"y":0.986},{"x":4.84,"y":0.995},{"x":3.55,"y":0.961},{"x":3.84,"y":0.912},{"x":3.94,"y":0.902},{"x":3.98,"y":0.833},{"x":4.24,"y":0.761},{"x":4.64,"y":0.781},{"x":3.55,"y":0.797},{"x":3.36,"y":0.859},{"x":3.38,"y":0.777},{"x":3.35,"y":0.771},{"x":3.3,"y":0.727},{"x":3.58,"y":0.694},{"x":3.21,"y":0.906},{"x":2.98,"y":0.731},{"x":3.18,"y":0.657},{"x":3.32,"y":1.144},{"x":3.31,"y":1.112},{"x":3.68,"y":1.24},{"x":3.71,"y":1.249},{"x":3.85,"y":1.255},{"x":3.18,"y":1.278},{"x":3.29,"y":1.278},{"x":3.4,"y":1.291},{"x":3.22,"y":1.247},{"x":3.26,"y":1.217},{"x":2.93,"y":1.291},{"x":2.93,"y":1.249},{"x":3.0,"y":1.255},{"x":3.06,"y":1.223},{"x":2.95,"y":1.2},{"x":2.79,"y":1.2},{"x":2.95,"y":1.087},{"x":2.69,"y":1.112},{"x":2.72,"y":1.103},{"x":2.69,"y":1.064},{"x":2.62,"y":1.152},{"x":2.46,"y":1.054},{"x":2.6,"y":0.975},{"x":2.51,"y":0.94},{"x":2.74,"y":0.915},{"x":2.86,"y":0.891},{"x":2.76,"y":0.883},{"x":2.6,"y":0.854},{"x":2.61,"y":0.841},{"x":2.8,"y":0.837},{"x":2.88,"y":0.848},{"x":2.95,"y":0.848},{"x":2.37,"y":0.885},{"x":2.27,"y":0.822},{"x":2.15,"y":0.82},{"x":2.19,"y":0.78},{"x":2.29,"y":0.757},{"x":2.23,"y":0.734},{"x":2.33,"y":0.703},{"x":2.42,"y":0.679},{"x":2.15,"y":0.711},
{"x":1.71,"y":1.29},{"x":1.84,"y":1.272},{"x":1.97,"y":1.255},{"x":2.16,"y":1.272},{"x":2.26,"y":1.255},{"x":2.09,"y":1.232},{"x":1.9,"y":1.227},{"x":1.71,"y":1.215},{"x":2.03,"y":1.192},{"x":2.16,"y":1.175},{"x":1.84,"y":1.158},{"x":2.09,"y":1.158},{"x":2.35,"y":1.221},{"x":2.51,"y":1.221},{"x":2.39,"y":1.198},{"x":2.55,"y":1.192},{"x":2.32,"y":1.152},{"x":2.45,"y":1.135},{"x":2.22,"y":1.112},{"x":2.35,"y":1.106},{"x":1.9,"y":1.095},{"x":2.09,"y":1.095},{"x":1.71,"y":1.066},{"x":1.97,"y":1.066},{"x":2.16,"y":1.026},{"x":2.26,"y":1.009},{"x":2.03,"y":0.991},{"x":1.77,"y":0.974},{"x":2.09,"y":0.969},{"x":1.64,"y":0.946},{"x":1.84,"y":0.928},{"x":2.0,"y":0.928},{"x":2.22,"y":0.951},{"x":1.64,"y":0.906},{"x":1.9,"y":0.888},{"x":1.74,"y":0.871},{"x":1.9,"y":0.854},{"x":1.71,"y":0.837},{"x":1.58,"y":0.802},{"x":1.97,"y":0.814},{"x":2.13,"y":0.791},{"x":1.64,"y":0.768},{"x":1.84,"y":0.745},{"x":1.64,"y":0.722},{"x":1.97,"y":0.711},{"x":1.77,"y":0.676},{"x":2.03,"y":0.671},
{"x":4.1,"y":0.64},{"x":3.6,"y":0.607},{"x":3.18,"y":0.656},{"x":3.15,"y":0.644},{"x":3.29,"y":0.644},{"x":2.89,"y":0.614},{"x":2.95,"y":0.565},{"x":3.26,"y":0.57},{"x":2.52,"y":0.57},{"x":3.16,"y":0.479},{"x":3.5,"y":0.465},{"x":2.75,"y":0.453},{"x":2.8,"y":0.436},{"x":3.08,"y":0.417},{"x":3.23,"y":0.385},{"x":3.26,"y":0.336},{"x":2.64,"y":0.323},{"x":2.22,"y":0.362},{"x":2.22,"y":0.323},{"x":2.92,"y":0.247},{"x":2.0,"y":0.244},{"x":2.0,"y":0.3},{"x":1.77,"y":0.308},{"x":1.58,"y":0.275},{"x":1.5,"y":0.332},{"x":1.64,"y":0.339},{"x":1.74,"y":0.353},{"x":1.77,"y":0.376},{"x":1.82,"y":0.378},{"x":2.35,"y":0.462},{"x":2.14,"y":0.453},{"x":2.16,"y":0.413},{"x":1.97,"y":0.47},{"x":1.97,"y":0.445},{"x":1.9,"y":0.408},{"x":1.84,"y":0.444},{"x":1.77,"y":0.426},{"x":1.67,"y":0.409},{"x":1.58,"y":0.417},{"x":2.11,"y":0.484},{"x":2.39,"y":0.51},{"x":2.29,"y":0.51},{"x":2.19,"y":0.516},{"x":2.11,"y":0.535},{"x":1.89,"y":0.533},{"x":1.8,"y":0.532},{"x":1.74,"y":0.512},{"x":1.66,"y":0.495},{"x":1.49,"y":0.498},{"x":1.56,"y":0.526},{"x":1.56,"y":0.567},{"x":1.58,"y":0.587},{"x":1.8,"y":0.562},{"x":1.9,"y":0.567},{"x":1.95,"y":0.583},{"x":2.03,"y":0.567},{"x":2.09,"y":0.582},{"x":2.29,"y":0.596},{"x":2.28,"y":0.605},{"x":2.37,"y":0.542},{"x":2.18,"y":0.646},{"x":2.07,"y":0.622},{"x":2.02,"y":0.613},{"x":1.83,"y":0.638},{"x":1.7,"y":0.649},{"x":1.59,"y":0.663},{"x":1.5,"y":0.653},
{"x":1.84,"y":1.215},{"x":2.03,"y":1.249},{"x":2.19,"y":1.272},{"x":2.29,"y":1.227},{"x":2.16,"y":1.181},{"x":1.9,"y":1.135},{"x":2.16,"y":1.112},{"x":2.03,"y":1.077},{"x":2.29,"y":1.066},{"x":1.9,"y":1.054},{"x":1.9,"y":0.997},{"x":2.16,"y":0.986},{"x":2.35,"y":1.009},{"x":2.0,"y":0.963},{"x":2.22,"y":0.951},{"x":2.03,"y":0.883},{"x":2.29,"y":0.86},{"x":2.16,"y":0.825},{"x":1.77,"y":0.837},{"x":1.97,"y":0.791},{"x":2.29,"y":0.78},{"x":1.9,"y":0.734},{"x":2.16,"y":0.722},{"x":1.77,"y":0.699},{"x":1.97,"y":0.665},{"x":2.22,"y":0.653},{"x":2.35,"y":0.642},{"x":1.77,"y":0.607},{"x":2.03,"y":0.585},{"x":1.84,"y":0.55},{"x":2.16,"y":0.539},{"x":1.64,"y":0.516},{"x":1.9,"y":0.493},{"x":1.58,"y":0.47},{"x":1.84,"y":0.447},{"x":2.03,"y":0.436},{"x":1.64,"y":0.413},{"x":1.9,"y":0.39},{"x":2.16,"y":0.401},{"x":1.58,"y":0.367},{"x":1.39,"y":0.332},{"x":1.77,"y":0.344},{"x":1.58,"y":0.309},{"x":2.0,"y":0.304},{"x":2.0,"y":0.241},{"x":1.26,"y":0.264},{"x":1.51,"y":0.275},{"x":1.13,"y":0.218},{"x":1.39,"y":0.206},{"x":1.19,"y":0.149},{"x":1.0,"y":0.161},{"x":0.87,"y":0.126},{"x":0.74,"y":0.103},{"x":0.61,"y":0.08},
{"x":-0.42,"y":0.12},{"x":-0.5,"y":0.12},{"x":-0.48,"y":0.17},{"x":-0.58,"y":0.17},{"x":-0.55,"y":0.22},{"x":-0.68,"y":0.22},{"x":-0.62,"y":0.27},{"x":-0.75,"y":0.27},{"x":-0.9,"y":0.27},{"x":-0.68,"y":0.32},{"x":-0.82,"y":0.32},{"x":-0.95,"y":0.32},{"x":-0.76,"y":0.37},{"x":-0.9,"y":0.37},{"x":-1.05,"y":0.37},{"x":-0.82,"y":0.42},{"x":-0.97,"y":0.42},{"x":-1.12,"y":0.42},{"x":-1.25,"y":0.42},{"x":-0.9,"y":0.47},{"x":-1.03,"y":0.47},{"x":-1.18,"y":0.47},{"x":-0.95,"y":0.52},{"x":-1.1,"y":0.52},{"x":-1.25,"y":0.52},{"x":-1.4,"y":0.52},{"x":-1.02,"y":0.57},{"x":-1.15,"y":0.57},{"x":-1.3,"y":0.57},{"x":-1.06,"y":0.62},{"x":-1.22,"y":0.62},{"x":-1.35,"y":0.62},{"x":-1.5,"y":0.62},{"x":-1.12,"y":0.67},{"x":-1.26,"y":0.67},{"x":-1.4,"y":0.67},{"x":-1.55,"y":0.67},{"x":-1.17,"y":0.72},{"x":-1.3,"y":0.72},{"x":-1.45,"y":0.72},{"x":-1.6,"y":0.72},{"x":-1.25,"y":0.77},{"x":-1.38,"y":0.77},{"x":-1.52,"y":0.77},{"x":-1.65,"y":0.77},{"x":-1.3,"y":0.82},{"x":-1.42,"y":0.82},{"x":-1.56,"y":0.82},{"x":-1.72,"y":0.82},{"x":-1.35,"y":0.87},{"x":-1.48,"y":0.87},{"x":-1.62,"y":0.87},{"x":-1.78,"y":0.87},{"x":-1.4,"y":0.92},{"x":-1.52,"y":0.92},{"x":-1.66,"y":0.92},{"x":-1.82,"y":0.92},{"x":-1.45,"y":0.97},{"x":-1.58,"y":0.97},{"x":-1.7,"y":0.97},{"x":-1.85,"y":0.97},{"x":-1.5,"y":1.02},{"x":-1.62,"y":1.02},{"x":-1.76,"y":1.02},{"x":-1.9,"y":1.02},{"x":-1.58,"y":1.07},{"x":-1.7,"y":1.07},{"x":-1.83,"y":1.07},{"x":-1.98,"y":1.07},{"x":-1.65,"y":1.12},{"x":-1.78,"y":1.12},{"x":-1.92,"y":1.12},{"x":-1.75,"y":1.17},{"x":-1.88,"y":1.17},{"x":-2.02,"y":1.17},{"x":-1.85,"y":1.22},{"x":-1.98,"y":1.22},{"x":-2.1,"y":1.22},{"x":-1.95,"y":1.27},{"x":-2.05,"y":1.27},{"x":-2.18,"y":1.27},
{"x":0.4,"y":0.12},{"x":0.5,"y":0.12},{"x":0.48,"y":0.17},{"x":0.6,"y":0.17},{"x":0.56,"y":0.22},{"x":0.68,"y":0.22},{"x":0.8,"y":0.22},{"x":0.66,"y":0.27},{"x":0.78,"y":0.27},{"x":0.9,"y":0.27},{"x":0.72,"y":0.32},{"x":0.86,"y":0.32},{"x":1.0,"y":0.32},{"x":0.8,"y":0.37},{"x":0.94,"y":0.37},{"x":1.08,"y":0.37},{"x":0.86,"y":0.42},{"x":1.0,"y":0.42},{"x":1.14,"y":0.42},{"x":1.3,"y":0.42},{"x":0.93,"y":0.47},{"x":1.06,"y":0.47},{"x":1.2,"y":0.47},{"x":1.35,"y":0.47},{"x":1.0,"y":0.52},{"x":1.12,"y":0.52},{"x":1.26,"y":0.52},{"x":1.42,"y":0.52},{"x":1.08,"y":0.57},{"x":1.2,"y":0.57},{"x":1.34,"y":0.57},{"x":1.5,"y":0.57},{"x":1.12,"y":0.62},{"x":1.26,"y":0.62},{"x":1.4,"y":0.62},{"x":1.55,"y":0.62},{"x":1.2,"y":0.67},{"x":1.33,"y":0.67},{"x":1.47,"y":0.67},{"x":1.62,"y":0.67},{"x":1.24,"y":0.72},{"x":1.38,"y":0.72},{"x":1.52,"y":0.72},{"x":1.68,"y":0.72},{"x":1.32,"y":0.77},{"x":1.45,"y":0.77},{"x":1.6,"y":0.77},{"x":1.75,"y":0.77},{"x":1.36,"y":0.82},{"x":1.5,"y":0.82},{"x":1.64,"y":0.82},{"x":1.8,"y":0.82},{"x":1.42,"y":0.87},{"x":1.56,"y":0.87},{"x":1.7,"y":0.87},{"x":1.86,"y":0.87},{"x":1.46,"y":0.92},{"x":1.6,"y":0.92},{"x":1.74,"y":0.92},{"x":1.9,"y":0.92},{"x":1.52,"y":0.97},{"x":1.66,"y":0.97},{"x":1.8,"y":0.97},{"x":1.95,"y":0.97},{"x":1.57,"y":1.02},{"x":1.7,"y":1.02},{"x":1.85,"y":1.02},{"x":2.0,"y":1.02},{"x":1.64,"y":1.07},{"x":1.78,"y":1.07},{"x":1.92,"y":1.07},{"x":2.08,"y":1.07},{"x":1.7,"y":1.12},{"x":1.84,"y":1.12},{"x":1.98,"y":1.12},{"x":2.12,"y":1.12},{"x":1.82,"y":1.17},{"x":1.95,"y":1.17},{"x":2.1,"y":1.17},{"x":2.25,"y":1.17},{"x":1.9,"y":1.22},{"x":2.04,"y":1.22},{"x":2.18,"y":1.22},{"x":2.32,"y":1.22},{"x":2.02,"y":1.27},{"x":2.15,"y":1.27},{"x":2.3,"y":1.27},{"x":2.45,"y":1.27}
]
},
"layer":[
{"data":{"name":"core"},
 "mark":{"type":"circle","size":40,"color":"#A5A5A5","opacity":1},
 "encoding":{
  "x":{"field":"x","type":"quantitative","scale":{"domain":[-8,10],"nice":false,"zero":false},
   "axis":{"title":"log FC","values":[-8,-6,-4,-2,0,2,4,6,8,10],"labelExpr":"(datum.value<0?'-':'')+replace(format(abs(datum.value),'.1f'),'.',',')","grid":false,"ticks":false,"domainColor":"#BFBFBF","domainWidth":1.5,"labelFont":"Lato","labelFontSize":21,"labelColor":"#595959","labelPadding":19,"labelFlush":false,"labelOverlap":false,"titleFont":"Lato","titleFontSize":23,"titleFontWeight":"normal","titleColor":"#595959","titlePadding":14}},
  "y":{"field":"y","type":"quantitative","scale":{"domain":[0,1.6],"nice":false,"zero":false},
   "axis":{"title":"-log (adj.p)","values":[0,0.2,0.4,0.6,0.8,1,1.2,1.4,1.6],"labelExpr":"replace(format(datum.value,'.1~f'),'.',',')","grid":false,"ticks":false,"domainColor":"#BFBFBF","domainWidth":1.5,"labelFont":"Lato","labelFontSize":21,"labelColor":"#595959","labelPadding":22,"labelFlush":false,"labelOverlap":false,"titleFont":"Lato","titleFontSize":23,"titleFontWeight":"normal","titleColor":"#595959","titlePadding":17}}}},
{"data":{"name":"scat"},
 "mark":{"type":"circle","size":24,"color":"#A5A5A5","opacity":1},
 "encoding":{
  "x":{"field":"x","type":"quantitative","scale":{"domain":[-8,10],"nice":false,"zero":false},"title":"log FC"},
  "y":{"field":"y","type":"quantitative","scale":{"domain":[0,1.6],"nice":false,"zero":false},"title":"-log (adj.p)"}}},
{"data":{"name":"vref"},
 "mark":{"type":"rule","color":"#000000","strokeWidth":3,"strokeDash":[0.5,6.5],"strokeCap":"round"},
 "encoding":{"x":{"field":"x","type":"quantitative","scale":{"domain":[-8,10],"nice":false,"zero":false},"title":"log FC"}}},
{"data":{"name":"href"},
 "mark":{"type":"rule","color":"#000000","strokeWidth":3,"strokeDash":[0.5,6.5],"strokeCap":"round"},
 "encoding":{"y":{"field":"y","type":"quantitative","scale":{"domain":[0,1.6],"nice":false,"zero":false},"title":"-log (adj.p)"}}},
{"data":{"name":"sig"},
 "mark":{"type":"circle","size":26,"opacity":1},
 "encoding":{
  "x":{"field":"x","type":"quantitative","scale":{"domain":[-8,10],"nice":false,"zero":false},"title":"log FC"},
  "y":{"field":"y","type":"quantitative","scale":{"domain":[0,1.6],"nice":false,"zero":false},"title":"-log (adj.p)"},
  "color":{"field":"g","type":"nominal","scale":{"domain":["Upregulované proteiny","Downregulované proteiny"],"range":["#4472C4","#FF0000"]},
   "legend":{"title":null,"orient":"none","legendX":192,"legendY":569,"direction":"horizontal","columns":2,"symbolType":"circle","symbolSize":24,"symbolOpacity":1,"labelFont":"Lato","labelFontSize":22.5,"columnPadding":42,"labelOffset":0,"padding":0,"labelLimit":400,
    "encode":{"labels":{"update":{"fill":{"signal":"datum.value==='Upregulované proteiny'?'#4472C4':'#FF0000'"}}}}}}}}
]
}
